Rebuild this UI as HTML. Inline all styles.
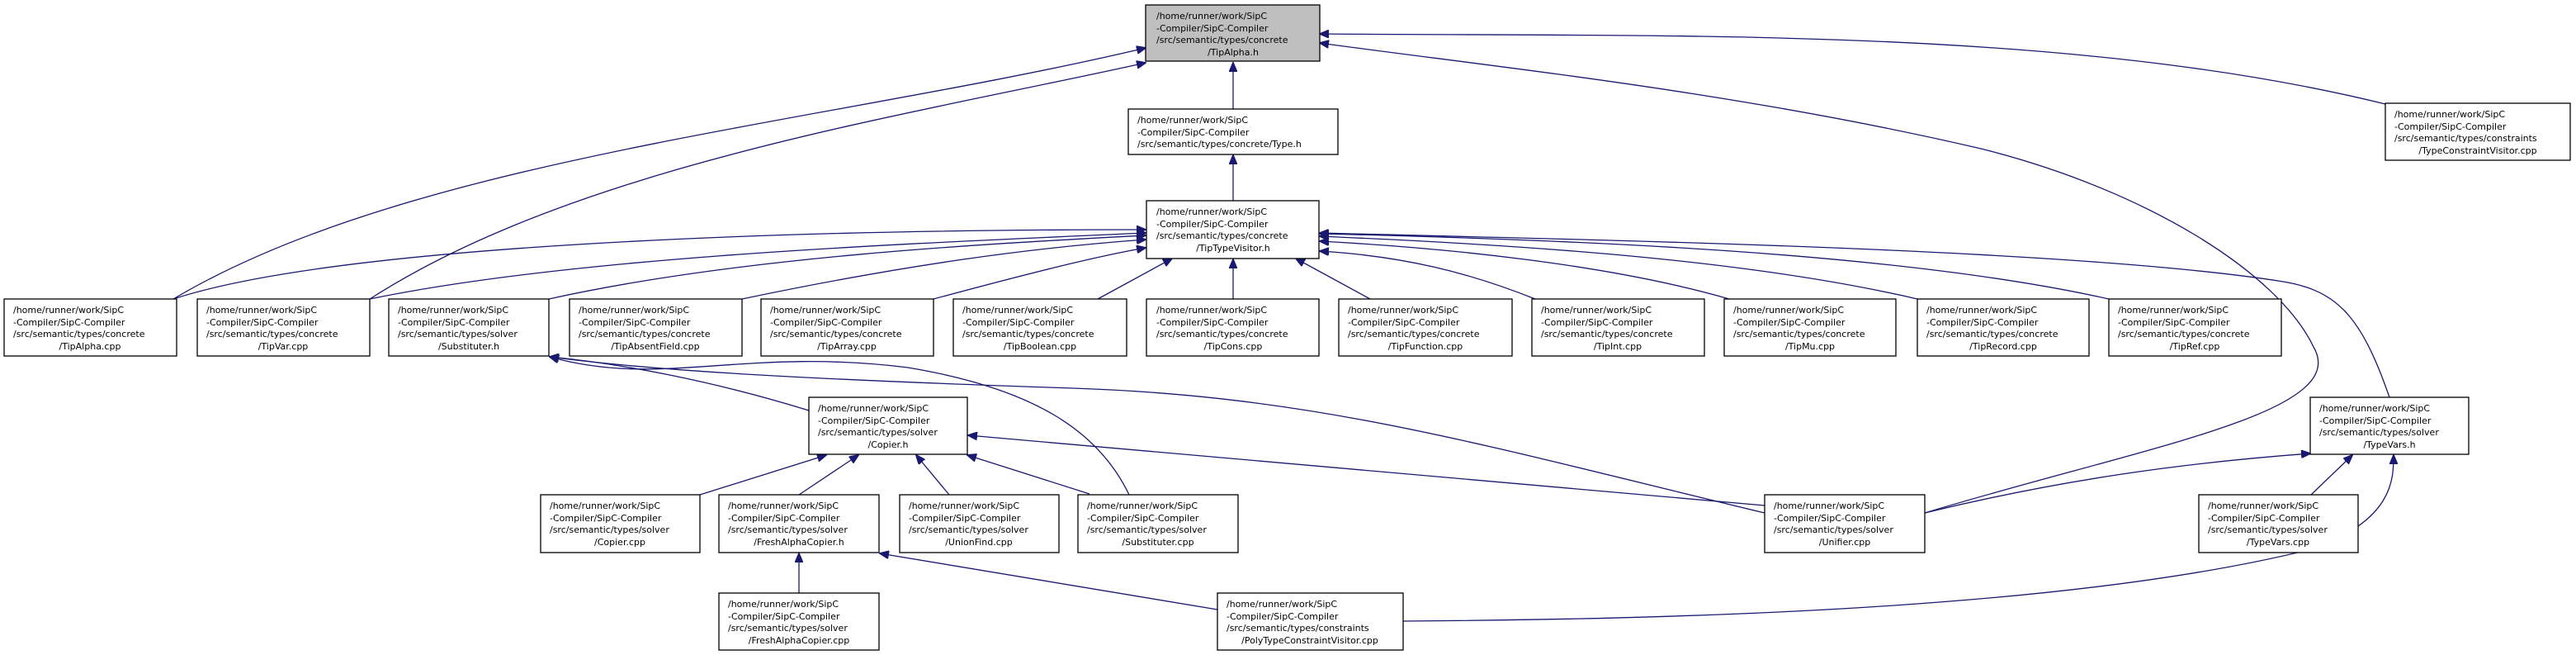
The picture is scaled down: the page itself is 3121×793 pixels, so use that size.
<!DOCTYPE html>
<html><head><meta charset="utf-8"><style>
html,body{margin:0;padding:0;background:#fff;}
svg{display:block}
text{font-family:"DejaVu Sans","Liberation Sans",sans-serif;font-size:11px;fill:#000}
rect{fill:#fff;stroke:#000;stroke-width:1.3}
path{fill:none;stroke:#191970;stroke-width:1.3}
</style></head><body>
<svg width="3121" height="793" viewBox="0 0 3121 793" xmlns="http://www.w3.org/2000/svg">
<defs><marker id="a" markerWidth="12" markerHeight="10" refX="11" refY="5" orient="auto" markerUnits="userSpaceOnUse"><path d="M0,0 L12,5 L0,10 Z" style="fill:#191970;stroke:#191970;stroke-width:1"/></marker></defs>
<g marker-end="url(#a)">
<path d="M1494,132 L1494,76"/>
<path d="M1494,243 L1494,188"/>
<path d="M210,362 C500,190 1000,150 1388,58"/>
<path d="M448,362 C700,200 1100,140 1388,76"/>
<path d="M2890,126 C2500,30 2000,45 1599,41"/>
<path d="M2332,621 C2600,540 2850,500 2803,420 C2760,330 2600,230 2400,180 C2100,110 1800,80 1599,52"/>
<path d="M210,362 C400,300 900,278 1388,278"/>
<path d="M448,362 C700,310 1100,295 1388,282"/>
<path d="M665,362 C900,310 1200,295 1388,285"/>
<path d="M899,362 C1100,320 1250,300 1388,290"/>
<path d="M1131,362 C1250,330 1330,310 1388,300"/>
<path d="M1330,362 L1420,313"/>
<path d="M1494,362 L1494,314"/>
<path d="M1660,362 L1570,313"/>
<path d="M1860,362 C1780,330 1700,310 1599,304"/>
<path d="M2095,362 C1950,320 1750,300 1599,292"/>
<path d="M2323,362 C2100,310 1800,295 1599,286"/>
<path d="M2555,362 C2300,305 1900,290 1599,283"/>
<path d="M2895,481 C2860,380 2830,350 2760,340 C2500,300 1900,290 1599,282"/>
<path d="M980,497 C860,460 750,440 666,432"/>
<path d="M2138,621 C1800,540 1600,480 1300,470 C1000,460 800,450 666,432"/>
<path d="M1368,599 C1330,520 1250,470 1100,445 C900,420 800,470 666,432"/>
<path d="M848,599 L1001,551"/>
<path d="M968,599 L1040,551"/>
<path d="M1150,599 L1110,551"/>
<path d="M1320,598 L1172,551"/>
<path d="M2138,612 L1173,527"/>
<path d="M968,718 L968,670"/>
<path d="M1475,738 L1066,670"/>
<path d="M1700,752 C2000,750 2500,740 2800,665 C2900,630 2900,580 2900,551"/>
<path d="M2332,621 C2500,580 2650,560 2799,549"/>
<path d="M2800,599 L2850,551"/>
</g>
<g>
<rect x="1388" y="6" width="211" height="68" style="fill:#bfbfbf"/>
<text x="1401" y="23">/home/runner/work/SipC</text><text x="1401" y="38">-Compiler/SipC-Compiler</text><text x="1401" y="52">/src/semantic/types/concrete</text><text x="1494" y="67" text-anchor="middle">/TipAlpha.h</text>

<rect x="1367" y="132" width="254" height="55"/>
<text x="1378" y="149">/home/runner/work/SipC</text><text x="1378" y="164">-Compiler/SipC-Compiler</text><text x="1378" y="178">/src/semantic/types/concrete/Type.h</text>

<rect x="1389" y="243" width="209" height="70"/>
<text x="1401" y="260">/home/runner/work/SipC</text><text x="1401" y="275">-Compiler/SipC-Compiler</text><text x="1401" y="289">/src/semantic/types/concrete</text><text x="1494" y="304" text-anchor="middle">/TipTypeVisitor.h</text>

<rect x="2890" y="125" width="224" height="69"/>
<text x="2901" y="142">/home/runner/work/SipC</text><text x="2901" y="157">-Compiler/SipC-Compiler</text><text x="2901" y="171">/src/semantic/types/constraints</text><text x="3002" y="186" text-anchor="middle">/TypeConstraintVisitor.cpp</text>

<rect x="5" y="362" width="209" height="69"/>
<text x="16" y="379">/home/runner/work/SipC</text><text x="16" y="394">-Compiler/SipC-Compiler</text><text x="16" y="408">/src/semantic/types/concrete</text><text x="109" y="423" text-anchor="middle">/TipAlpha.cpp</text>

<rect x="239" y="362" width="209" height="69"/>
<text x="250" y="379">/home/runner/work/SipC</text><text x="250" y="394">-Compiler/SipC-Compiler</text><text x="250" y="408">/src/semantic/types/concrete</text><text x="343" y="423" text-anchor="middle">/TipVar.cpp</text>

<rect x="471" y="362" width="194" height="69"/>
<text x="482" y="379">/home/runner/work/SipC</text><text x="482" y="394">-Compiler/SipC-Compiler</text><text x="482" y="408">/src/semantic/types/solver</text><text x="568" y="423" text-anchor="middle">/Substituter.h</text>

<rect x="690" y="362" width="209" height="69"/>
<text x="701" y="379">/home/runner/work/SipC</text><text x="701" y="394">-Compiler/SipC-Compiler</text><text x="701" y="408">/src/semantic/types/concrete</text><text x="794" y="423" text-anchor="middle">/TipAbsentField.cpp</text>

<rect x="922" y="362" width="209" height="69"/>
<text x="933" y="379">/home/runner/work/SipC</text><text x="933" y="394">-Compiler/SipC-Compiler</text><text x="933" y="408">/src/semantic/types/concrete</text><text x="1026" y="423" text-anchor="middle">/TipArray.cpp</text>

<rect x="1155" y="362" width="210" height="69"/>
<text x="1166" y="379">/home/runner/work/SipC</text><text x="1166" y="394">-Compiler/SipC-Compiler</text><text x="1166" y="408">/src/semantic/types/concrete</text><text x="1260" y="423" text-anchor="middle">/TipBoolean.cpp</text>

<rect x="1389" y="362" width="209" height="69"/>
<text x="1401" y="379">/home/runner/work/SipC</text><text x="1401" y="394">-Compiler/SipC-Compiler</text><text x="1401" y="408">/src/semantic/types/concrete</text><text x="1494" y="423" text-anchor="middle">/TipCons.cpp</text>

<rect x="1622" y="362" width="210" height="69"/>
<text x="1633" y="379">/home/runner/work/SipC</text><text x="1633" y="394">-Compiler/SipC-Compiler</text><text x="1633" y="408">/src/semantic/types/concrete</text><text x="1727" y="423" text-anchor="middle">/TipFunction.cpp</text>

<rect x="1856" y="362" width="209" height="69"/>
<text x="1867" y="379">/home/runner/work/SipC</text><text x="1867" y="394">-Compiler/SipC-Compiler</text><text x="1867" y="408">/src/semantic/types/concrete</text><text x="1960" y="423" text-anchor="middle">/TipInt.cpp</text>

<rect x="2089" y="362" width="208" height="69"/>
<text x="2100" y="379">/home/runner/work/SipC</text><text x="2100" y="394">-Compiler/SipC-Compiler</text><text x="2100" y="408">/src/semantic/types/concrete</text><text x="2193" y="423" text-anchor="middle">/TipMu.cpp</text>

<rect x="2323" y="362" width="208" height="69"/>
<text x="2334" y="379">/home/runner/work/SipC</text><text x="2334" y="394">-Compiler/SipC-Compiler</text><text x="2334" y="408">/src/semantic/types/concrete</text><text x="2427" y="423" text-anchor="middle">/TipRecord.cpp</text>

<rect x="2555" y="362" width="209" height="69"/>
<text x="2566" y="379">/home/runner/work/SipC</text><text x="2566" y="394">-Compiler/SipC-Compiler</text><text x="2566" y="408">/src/semantic/types/concrete</text><text x="2659" y="423" text-anchor="middle">/TipRef.cpp</text>

<rect x="980" y="481" width="192" height="69"/>
<text x="991" y="498">/home/runner/work/SipC</text><text x="991" y="513">-Compiler/SipC-Compiler</text><text x="991" y="527">/src/semantic/types/solver</text><text x="1076" y="542" text-anchor="middle">/Copier.h</text>

<rect x="2799" y="481" width="192" height="69"/>
<text x="2810" y="498">/home/runner/work/SipC</text><text x="2810" y="513">-Compiler/SipC-Compiler</text><text x="2810" y="527">/src/semantic/types/solver</text><text x="2895" y="542" text-anchor="middle">/TypeVars.h</text>

<rect x="655" y="599" width="193" height="70"/>
<text x="666" y="616">/home/runner/work/SipC</text><text x="666" y="631">-Compiler/SipC-Compiler</text><text x="666" y="645">/src/semantic/types/solver</text><text x="751" y="660" text-anchor="middle">/Copier.cpp</text>

<rect x="871" y="599" width="194" height="70"/>
<text x="882" y="616">/home/runner/work/SipC</text><text x="882" y="631">-Compiler/SipC-Compiler</text><text x="882" y="645">/src/semantic/types/solver</text><text x="968" y="660" text-anchor="middle">/FreshAlphaCopier.h</text>

<rect x="1090" y="599" width="193" height="70"/>
<text x="1101" y="616">/home/runner/work/SipC</text><text x="1101" y="631">-Compiler/SipC-Compiler</text><text x="1101" y="645">/src/semantic/types/solver</text><text x="1186" y="660" text-anchor="middle">/UnionFind.cpp</text>

<rect x="1306" y="599" width="194" height="70"/>
<text x="1317" y="616">/home/runner/work/SipC</text><text x="1317" y="631">-Compiler/SipC-Compiler</text><text x="1317" y="645">/src/semantic/types/solver</text><text x="1403" y="660" text-anchor="middle">/Substituter.cpp</text>

<rect x="2138" y="599" width="194" height="70"/>
<text x="2149" y="616">/home/runner/work/SipC</text><text x="2149" y="631">-Compiler/SipC-Compiler</text><text x="2149" y="645">/src/semantic/types/solver</text><text x="2235" y="660" text-anchor="middle">/Unifier.cpp</text>

<rect x="2664" y="599" width="193" height="70"/>
<text x="2675" y="616">/home/runner/work/SipC</text><text x="2675" y="631">-Compiler/SipC-Compiler</text><text x="2675" y="645">/src/semantic/types/solver</text><text x="2760" y="660" text-anchor="middle">/TypeVars.cpp</text>

<rect x="871" y="718" width="194" height="69"/>
<text x="882" y="735">/home/runner/work/SipC</text><text x="882" y="750">-Compiler/SipC-Compiler</text><text x="882" y="764">/src/semantic/types/solver</text><text x="968" y="779" text-anchor="middle">/FreshAlphaCopier.cpp</text>

<rect x="1475" y="718" width="225" height="69"/>
<text x="1486" y="735">/home/runner/work/SipC</text><text x="1486" y="750">-Compiler/SipC-Compiler</text><text x="1486" y="764">/src/semantic/types/constraints</text><text x="1587" y="779" text-anchor="middle">/PolyTypeConstraintVisitor.cpp</text>
</g>
</svg>
</body></html>
